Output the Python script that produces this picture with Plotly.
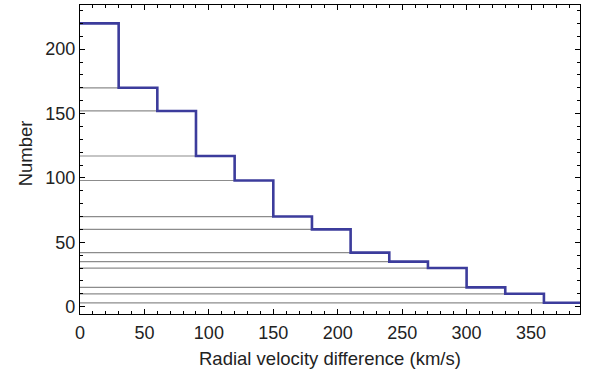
import plotly.graph_objects as go

bin_edges = [0, 30, 60, 90, 120, 150, 180, 210, 240, 270, 300, 330, 360, 390]
counts = [220, 170, 152, 117, 98, 70, 60, 42, 35, 30, 15, 10, 3]
x_tick_vals = [0, 50, 100, 150, 200, 250, 300, 350]
y_tick_vals = [0, 50, 100, 150, 200]
x_title = "Radial velocity difference (km/s)"
y_title = "Number"

FONT = "Liberation Sans, Arial, sans-serif"

fig = go.Figure()

gx, gy = [], []
for i in range(1, len(counts)):
    gx += [0, bin_edges[i], None]
    gy += [counts[i], counts[i], None]
fig.add_trace(go.Scatter(x=gx, y=gy, mode="lines",
                         line=dict(color="#8c8c8c", width=1.2),
                         hoverinfo="skip", showlegend=False))

fig.add_trace(go.Scatter(x=bin_edges, y=counts + [counts[-1]], mode="lines",
                         line=dict(color="#3c3c9c", width=2.6, shape="hv"),
                         showlegend=False))

axis_common = dict(
    showgrid=False, zeroline=False, showline=True, linecolor="black", linewidth=1.2,
    mirror="allticks", ticks="inside", ticklen=5, tickwidth=1, tickcolor="black",
    tickfont=dict(family=FONT, size=18, color="#222"), automargin=False,
)

fig.update_xaxes(range=[0, 388], tickvals=x_tick_vals, ticklabelstandoff=2,
                 minor=dict(dtick=10, ticks="inside", ticklen=3, tickcolor="black", tickwidth=1, showgrid=False),
                 **axis_common)
fig.update_yaxes(range=[-5.7, 234.3], tickvals=y_tick_vals,
                 minor=dict(dtick=10, ticks="inside", ticklen=3, tickcolor="black", tickwidth=1, showgrid=False),
                 **axis_common)

fig.add_annotation(text=x_title, xref="paper", yref="paper", x=0.5, y=-0.143,
                   xanchor="center", yanchor="middle", showarrow=False,
                   font=dict(family=FONT, size=18.5, color="#222"))
fig.add_annotation(text=y_title, xref="paper", yref="paper", x=-0.11, y=0.52,
                   xanchor="center", yanchor="middle", showarrow=False, textangle=-90,
                   font=dict(family=FONT, size=18.5, color="#222"))

fig.update_layout(width=591, height=374, plot_bgcolor="white", paper_bgcolor="white",
                  margin=dict(l=80, r=11, t=5, b=60, autoexpand=False))

fig.write_html("out.html", config={"displayModeBar": False},
               post_script="document.body.style.margin='0';document.body.style.padding='0';")
